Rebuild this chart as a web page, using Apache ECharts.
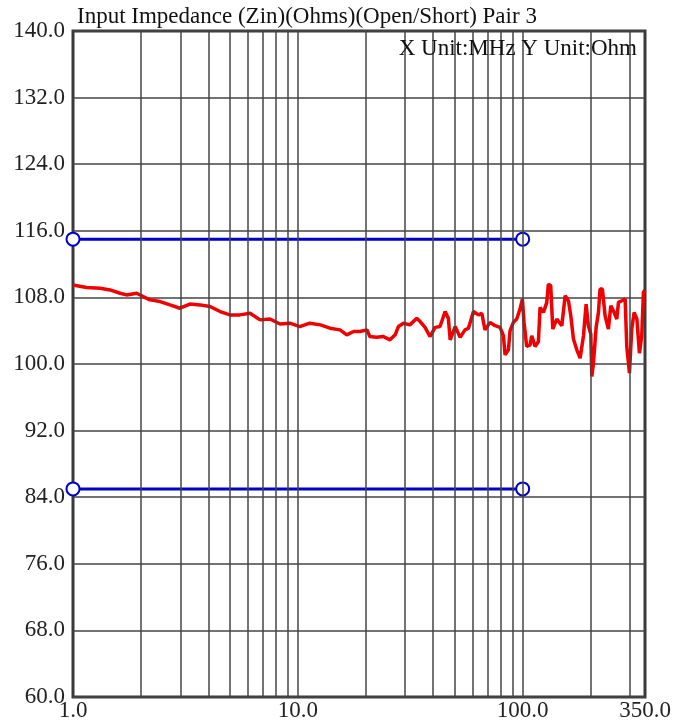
<!DOCTYPE html>
<html>
<head>
<meta charset="utf-8">
<script src="https://cdn.jsdelivr.net/npm/echarts@6/dist/echarts.min.js"></script>
<style>
html,body{margin:0;padding:0;background:#fff;}
#chart{width:674px;height:722px;}
</style>
</head>
<body>
<div id="chart"></div>
<script>
// Data (X in MHz, Y in Ohm)
const titleText = 'Input Impedance (Zin)(Ohms)(Open/Short) Pair 3';
const unitText = 'X Unit:MHz Y Unit:Ohm';
const xTickLabels = [1, 10, 100, 350];
const xGridValues = [2,3,4,5,6,7,8,9,10,20,30,40,50,60,70,80,90,100,200,300];
const limitFreq = [1, 100];
const upperLimit = [115, 115];
const lowerLimit = [85, 85];
const freqs = [1.0,1.15,1.32,1.46,1.62,1.73,1.92,2.05,2.20,2.44,2.70,2.99,3.31,3.67,4.07,4.51,4.99,5.53,6.13,6.79,7.52,8.33,9.23,10.2,11.3,12.6,13.9,15.4,16.5,17.7,18.9,20.3,20.9,22.4,24.0,25.7,27.1,28.0,29.5,31.5,33.8,35.0,36.8,38.7,40.8,42.9,45.2,46.7,47.6,50.1,52.7,55.4,57.4,60.4,63.6,65.8,68.0,
  71.6,75.4,79.3,82.1,83.5,86.4,87.9,90.9,94.1,97.3,99.7,101.4,104.2,107.9,109.7,113.6,117.5,119.5,123.7,128.0,130.1,133.3,136.1,141.8,149.3,154.5,159.8,163.7,168.2,174.1,180.1,186.4,191.5,196.0,200.9,203.0,206.4,212.2,217.3,220.9,226.3,232.6,240.6,246.6,255.1,262.2,266.7,276.1,285.6,290.4,298.5,305.6,313.1,322.1,330.6,338.5,344.4,350];
const impedance = [109.5,109.2,109.1,108.9,108.5,108.3,108.5,108.1,107.7,107.5,107.1,106.7,107.2,107.1,106.9,106.3,105.9,105.9,106.1,105.3,105.4,104.8,104.9,104.5,104.9,104.7,104.3,104.1,103.5,103.9,103.9,104.1,103.3,103.2,103.3,102.9,103.5,104.5,104.9,104.7,105.5,105.1,104.4,103.3,104.4,104.5,106.3,105.5,102.9,104.5,103.2,104.1,104.3,106.3,105.9,106.1,104.1,
  105.0,104.6,104.4,103.4,101.1,101.7,104.0,105.0,105.4,106.6,107.8,105.0,102.1,102.3,103.4,102.1,102.7,106.8,106.2,107.4,109.6,109.4,104.2,105.4,104.6,108.2,107.6,105.8,103.0,101.7,100.7,103.4,107.2,104.6,103.6,98.5,100.1,104.4,106.2,109.0,109.0,105.8,104.2,107.0,106.2,105.4,107.4,107.6,107.8,102.1,98.9,104.2,106.2,105.4,101.3,103.4,108.6,108.9];

const serif = '"Liberation Serif", "DejaVu Serif", serif';
const pair = (xs, ys) => xs.map((x, i) => [x, ys[i]]);

const chart = echarts.init(document.getElementById('chart'), null, {renderer: 'canvas'});
chart.setOption({
  animation: false,
  backgroundColor: '#ffffff',
  title: [
    {text: titleText, left: 72, top: 0, textStyle: {fontFamily: serif, fontSize: 23, fontWeight: 'normal', color: '#111'}},
    {text: unitText, right: 32, top: 32, textStyle: {fontFamily: serif, fontSize: 23, fontWeight: 'normal', color: '#111'}}
  ],
  grid: {left: 73, right: 29, top: 31, bottom: 25, show: true, borderColor: '#3a3a3a', borderWidth: 3, containLabel: false},
  xAxis: {
    type: 'log', logBase: 10, min: 1, max: 350,
    axisLine: {show: false}, axisTick: {show: false},
    splitLine: {show: false}, minorSplitLine: {show: false},
    axisLabel: {
      customValues: xTickLabels,
      formatter: v => Number(v).toFixed(1),
      fontFamily: serif, fontSize: 23, color: '#222', margin: 2,
      showMinLabel: true, showMaxLabel: true
    }
  },
  yAxis: {
    type: 'value', min: 60, max: 140, interval: 8,
    axisLine: {show: false}, axisTick: {show: false},
    splitLine: {show: true, lineStyle: {color: '#444', width: 1.5}},
    axisLabel: {formatter: v => v.toFixed(1), fontFamily: serif, fontSize: 23, color: '#222', margin: 8}
  },
  series: [
    {
      type: 'line', data: [[1, 60]], symbol: 'none', silent: true, z: 1,
      lineStyle: {opacity: 0},
      markLine: {
        silent: true, symbol: 'none', label: {show: false},
        lineStyle: {color: '#444', width: 1.5, type: 'solid'},
        data: xGridValues.map(v => ({xAxis: v}))
      }
    },
    {
      type: 'line', data: pair(freqs, impedance), symbol: 'none', z: 3,
      lineStyle: {color: '#f00000', width: 3.5}, itemStyle: {color: '#f00000'}
    },
    {
      type: 'line', data: pair(limitFreq, upperLimit), symbol: 'emptyCircle', symbolSize: 13, z: 4,
      lineStyle: {color: '#0000cc', width: 3}, itemStyle: {color: '#0000cc', borderColor: '#0000cc', borderWidth: 3.5}
    },
    {
      type: 'line', data: pair(limitFreq, lowerLimit), symbol: 'emptyCircle', symbolSize: 13, z: 4,
      lineStyle: {color: '#0000cc', width: 3}, itemStyle: {color: '#0000cc', borderColor: '#0000cc', borderWidth: 3.5}
    }
  ]
});
</script>
</body>
</html>
